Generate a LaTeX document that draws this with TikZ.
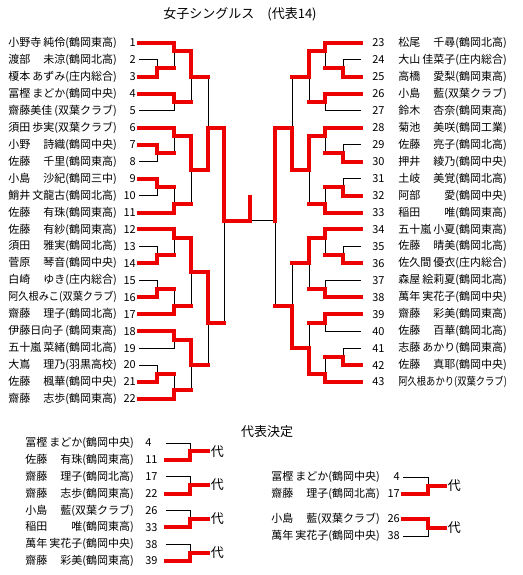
\documentclass[tikz,border=0pt]{standalone}
\usepackage{fontspec}
\setmainfont{Noto Sans CJK JP}
\usepackage{graphicx}
\definecolor{winred}{RGB}{236,0,0}

\newsavebox\pbox
\newlength\pw
\setlength\pw{81.5pt}
\newcommand\pname[3]{\sbox\pbox{#1#2(#3)}%
  \ifdim\wd\pbox>\pw\resizebox{\pw}{\height}{\usebox\pbox}%
  \else\hbox to\pw{#1\hfill#2(#3)}\fi}

\begin{document}
\begin{tikzpicture}[x=0.75pt, y=-0.75pt,
  declare function={ry(\r)=43+(\r-1)*16.95;},
  every node/.style={font=\fontsize{8.25pt}{10pt}\selectfont},
  pn/.style={anchor=west, inner sep=0pt},
  numl/.style={anchor=east, inner ysep=0pt, inner xsep=2.25pt},
  numr/.style={anchor=west, inner ysep=0pt, inner xsep=8.25pt},
  numb/.style={anchor=west, inner sep=0pt, text width=15pt},
  ttl/.style={font=\fontsize{9.75pt}{12pt}\selectfont},
  dai/.style={anchor=west, inner xsep=2pt, font=\fontsize{9.75pt}{12pt}\selectfont},
  win/.style={draw=winred, line width=3pt, line cap=rect},
  lose/.style={draw=black, line width=0.75pt}
]
\useasboundingbox (0,0) rectangle (522,575);

\node[ttl] (title) at (240,14) {女子シングルス　(代表14)};
\node[ttl] (sub) at (267,432) {代表決定};

\foreach \i/\fa/\gi/\af in {1/小野寺/純伶/鶴岡東高, 2/渡部/未涼/鶴岡北高, 3/榎本/あずみ/庄内総合,
  4/冨樫/まどか/鶴岡中央, 5/齋藤美佳//双葉クラブ, 6/須田/歩実/双葉クラブ, 7/小野/詩織/鶴岡中央,
  8/佐藤/千里/鶴岡東高, 9/小島/沙紀/鶴岡三中, 10/鮹井/文龍古/鶴岡北高, 11/佐藤/有珠/鶴岡東高,
  12/佐藤/有紗/鶴岡東高, 13/須田/雅実/鶴岡北高, 14/菅原/琴音/鶴岡中央, 15/白崎/ゆき/庄内総合,
  16/阿久根みこ//双葉クラブ, 17/齋藤/理子/鶴岡北高, 18/伊藤日向子//鶴岡東高, 19/五十嵐/菜緒/鶴岡北高,
  20/大嶌/理乃/羽黒高校, 21/佐藤/楓華/鶴岡中央, 22/齋藤/志歩/鶴岡東高}
{
  \node[pn] (p\i) at (8,{ry(\i)}) {\pname{\fa}{\gi}{\af}};
  \node[numl] (n\i) at (139,{ry(\i)}) {\i};
}
\foreach \i/\fa/\gi/\af in {23/松尾/千尋/鶴岡北高, 24/大山/佳菜子/庄内総合, 25/高橋/愛梨/鶴岡東高,
  26/小島/藍/双葉クラブ, 27/鈴木/杏奈/鶴岡東高, 28/菊池/美咲/鶴岡工業, 29/佐藤/亮子/鶴岡北高,
  30/押井/綾乃/鶴岡中央, 31/土岐/美覚/鶴岡北高, 32/阿部/愛/鶴岡中央, 33/稲田/唯/鶴岡東高,
  34/五十嵐/小夏/鶴岡東高, 35/佐藤/晴美/鶴岡北高, 36/佐久間/優衣/庄内総合, 37/森屋/絵莉夏/鶴岡北高,
  38/萬年/実花子/鶴岡中央, 39/齋藤/彩美/鶴岡東高, 40/佐藤/百華/鶴岡北高, 41/志藤/あかり/鶴岡東高,
  42/佐藤/真耶/鶴岡中央, 43/阿久根あかり//双葉クラブ}
{
  \node[pn] (p\i) at (398,{ry(\i-22)}) {\pname{\fa}{\gi}{\af}};
  \node[numr] (n\i) at (361,{ry(\i-22)}) {\i};
}

% match points
\foreach \m/\x/\r in {A/157/2.5, B/174/1.5, C/174/4.5, D/191/3, E/157/7.5, F/174/6.5, G/157/9.5,
  H/174/10.5, I/191/8.5, J/208/6, K/157/13.5, L/174/12.5, M/157/15.5, N/174/16.5, O/191/14.5,
  P/174/18.5, Q/157/20.5, R/174/21.5, S/191/20, T/208/17.5, U/224/11.5,
  a/343/2.5, b/325/1.5, c/325/4.5, d/309/3, e/343/7.5, f/325/6.5, g/343/9.5, h/325/10.5,
  i/309/8.5, j/292/6, k/343/13.5, l/325/12.5, m/325/15.5, n/309/14, o/325/17.5, p/343/19.5,
  q/325/20.5, r/309/19, s/292/16.5, t/275/11.5}
  \coordinate (m\m) at (\x,{ry(\r)});
\coordinate (fin) at (250,{ry(11.5)});
\coordinate (champ) at (250,197);

% lost
\foreach \p/\m in {2/A, 5/C, 8/E, 10/G, 13/K, 15/M, 19/P, 20/Q}
  \draw[lose] (n\p.east) -| (m\m);
\foreach \p/\m in {24/a, 27/c, 29/e, 31/g, 35/k, 37/m, 40/o, 41/p}
  \draw[lose] (n\p.west) -| (m\m);
\foreach \c/\m in {A/B, C/D, E/F, G/H, H/I, D/J, K/L, M/N, N/O, Q/R, R/S, S/T, T/U,
  a/b, c/d, e/f, g/h, h/i, d/j, k/l, m/n, o/r, p/q, n/s, s/t}
  \draw[lose] (m\c -| m\m) -- (m\m);
\draw[lose] (mt) -- (fin);

% won
\foreach \c/\m in {A/B, C/D, E/F, G/H, H/I, D/J, K/L, M/N, N/O, Q/R, R/S, S/T, T/U,
  a/b, c/d, e/f, g/h, h/i, d/j, k/l, m/n, o/r, p/q, n/s, s/t}
  \draw[win] (m\c) -- (m\c -| m\m);
\foreach \p/\m in {1/B, 3/A, 4/C, 6/F, 7/E, 9/G, 11/H, 12/L, 14/K, 16/M, 17/N, 18/P, 21/Q, 22/R}
  \draw[win] (n\p.east) -| (m\m);
\foreach \p/\m in {23/b, 25/a, 26/c, 28/f, 30/e, 32/g, 33/h, 34/l, 36/k, 38/m, 39/o, 42/p, 43/q}
  \draw[win] (n\p.west) -| (m\m);
\foreach \c/\m in {B/D, F/I, I/J, L/O, O/T, P/S, J/U, b/d, f/i, i/j, l/n, q/r, r/s, j/t}
  \draw[win] (m\c) -| (m\m);
\draw[win] (mU) -- (fin) -- (champ);

% playoff
\foreach \k/\fa/\gi/\af/\no in {0/冨樫/まどか/鶴岡中央/4, 1/佐藤/有珠/鶴岡東高/11, 2/齋藤/理子/鶴岡北高/17,
  3/齋藤/志歩/鶴岡東高/22, 4/小島/藍/双葉クラブ/26, 5/稲田/唯/鶴岡東高/33,
  6/萬年/実花子/鶴岡中央/38, 7/齋藤/彩美/鶴岡東高/39}
{
  \node[pn] (b\k) at (25,{443+\k*16.85}) {\pname{\fa}{\gi}{\af}};
  \node[numb] (bn\k) at (145,{443+\k*16.85}) {\no};
}
\foreach \j/\u/\w in {0/0/1, 1/2/3, 2/4/5, 3/6/7}
{
  \coordinate (bm\j) at (190,{443+(2*\j+0.5)*16.85});
  \node[dai] (bd\j) at (208,{443+(2*\j+0.5)*16.85}) {代};
  \draw[lose] (bn\u.east) -| (bm\j);
  \draw[win] (bn\w.east) -| (bm\j);
  \draw[win] (bm\j) -- (bd\j.west);
}

\foreach \k/\y/\fa/\gi/\af/\no in {0/477/冨樫/まどか/鶴岡中央/4, 1/494/齋藤/理子/鶴岡北高/17,
  2/519/小島/藍/双葉クラブ/26, 3/536/萬年/実花子/鶴岡中央/38}
{
  \node[pn] (s\k) at (271,\y) {\pname{\fa}{\gi}{\af}};
  \node[numl] (sn\k) at (403,\y) {\no};
}
\coordinate (sm0) at (428,485.5);
\coordinate (sm1) at (428,527.5);
\node[dai] (sd0) at (445,485.5) {代};
\node[dai] (sd1) at (445,527.5) {代};
\draw[lose] (sn0.east) -| (sm0);
\draw[lose] (sn3.east) -| (sm1);
\draw[win] (sn1.east) -| (sm0) -- (sd0.west);
\draw[win] (sn2.east) -| (sm1) -- (sd1.west);
\end{tikzpicture}
\end{document}
